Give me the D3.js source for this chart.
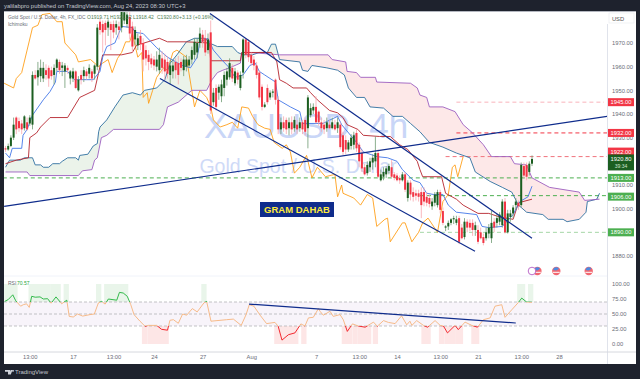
<!DOCTYPE html>
<html>
<head>
<meta charset="utf-8">
<script src="https://cdn.jsdelivr.net/npm/d3@7"></script>
<style>
  html, body { margin: 0; padding: 0; background: #1e222d; }
  svg { display: block; font-family: "Liberation Sans", Arial, sans-serif; }
  .tick text { fill: #6a6d78; font-size: 5.8px; }
</style>
</head>
<body>
<div id="chart"></div>
<script>
/* Candles, 4h bars, bar 1 is the first one visible */
var opens = [
  1925.5,1925,1926.5,1930,1938.5,1937,1936,1934,1936.5,1936,
  1935.5,1956.5,1955.5,1956,1955,1958.5,1959.5,1958.5,1956.5,1959.5,
  1962,1959.5,1958,1959.5,1955,1955,1958,1950,1956.5,1956,
  1958,1957,1958,1957,1960,1979,1978,1978.5,1976.5,1978,
  1978,1976.5,1977,1976.5,1979.5,1978,1981,1977,1971.5,1969,
  1973,1970,1967,1965,1963.5,1963,1960,1958.5,1963.5,1963,
  1962,1956.5,1958,1962,1961.5,1962,1958.5,1960,1960.5,1963,
  1965,1966,1970,1973.5,1972,1967,1974.5,1945,1951,1949,
  1947.5,1951,1954.5,1955.5,1959.5,1953,1957.5,1951,1957.5,1971.5,
  1970.5,1965,1963,1960.5,1957.5,1951.5,1943,1951,1947,1949,
  1954.5,1946,1933.5,1936.5,1937.5,1934,1936.5,1934,1935.5,1934,
  1936.5,1937.5,1934,1939.5,1941.5,1943,1941,1936.5,1935.5,1934,
  1935.5,1934,1935.5,1934,1935.5,1931,1929,1925,1926.5,1927,
  1932,1927,1923.5,1917.5,1915,1917.5,1919.5,1920,1923.5,1912,
  1913.5,1914.5,1916,1917.5,1914.5,1914,1913,1912,1914.5,1904.5,
  1911,1907,1906.5,1906.5,1907,1907,1905,1904.5,1901,1902.5,
  1901.5,1907,1899,1892,1892.5,1894,1895.5,1894,1896,1892,
  1888,1894.5,1894,1894,1891,1891,1890,1888,1887.5,1889.5,
  1887.5,1894.5,1894,1894.5,1893,1903,1890,1896.5,1898,1901.5,
  1902.5,1901.5,1918,1918.5,1915.5,1919
];
var closes = [
  1925,1926.5,1930,1935.5,1933.5,1934,1933.5,1939,1933.5,1938.5,
  1956.5,1955,1958.5,1959.5,1959.5,1956.5,1955,1956,1959.5,1963,
  1958.5,1960.5,1960.5,1958.5,1958,1958,1951,1954.5,1954.5,1958.5,
  1956,1959.5,1955,1960.5,1976.5,1975.5,1974.5,1975.5,1979,1975.5,
  1974.5,1978,1975.5,1984,1983,1982,1974,1968.5,1975.5,1972,
  1969.5,1963,1963.5,1962,1961,1960.5,1963,1965,1959.5,1958,
  1957,1960.5,1960.5,1958.5,1956.5,1959.5,1963,1963,1963,1967,
  1970.5,1970,1974,1970.5,1966,1971.5,1941.5,1949,1943,1951.5,
  1952.5,1956.5,1958,1961.5,1955,1958,1954.5,1956.5,1971.5,1965,
  1964,1961.5,1960.5,1956.5,1947,1943,1944,1945,1949,1949.5,
  1946,1933.5,1936.5,1934,1933.5,1936.5,1933.5,1937.5,1933.5,1936.5,
  1933.5,1932.5,1947,1942.5,1943,1936.5,1936.5,1934,1933.5,1936.5,
  1934,1936.5,1933.5,1936.5,1926,1924,1925,1928,1930,1931,
  1925.5,1920,1917,1914.5,1918.5,1920,1921.5,1923.5,1913.5,1914.5,
  1915.5,1917,1918,1913.5,1913,1912,1912,1914.5,1908,1911,
  1906,1905,1905.5,1905,1901.5,1903,1902.5,1902,1903,1906,
  1907,1899.5,1894,1892.5,1894,1895.5,1896,1895.5,1886,1887.5,
  1894.5,1892,1892,1891,1893,1886,1887.5,1885.5,1890,1892,
  1894,1892,1896,1897.5,1903,1890,1898,1898,1900.5,1903,
  1901,1918.5,1914,1913.5,1919,1921
];
var highs = [
  1926.5,1927.5,1931,1938.5,1939,1938.5,1937.5,1939.5,1938.5,1939.5,
  1958,1958.5,1962,1963,1962,1961,1960.5,1960,1961,1963.5,
  1963,1962,1961.5,1960.5,1958.5,1959.5,1958.5,1956,1958.5,1960,
  1959,1961,1959,1961,1978,1980.5,1979.5,1979.5,1980,1979,
  1979.5,1979.5,1979,1985.5,1985,1984,1983,1979,1977,1974,
  1975.5,1972,1969,1967,1965.5,1964.5,1966.5,1968,1966.5,1965.5,
  1964.5,1963,1963,1963.5,1964.5,1963.5,1964.5,1965,1964.5,1968.5,
  1972,1972,1976.5,1975.5,1975.5,1974,1979.5,1951,1952.5,1952.5,
  1954.5,1958,1959.5,1963.5,1961,1959.5,1958.5,1958,1972,1972,
  1971.5,1966,1964.5,1962,1958.5,1952.5,1945,1952.5,1950,1950.5,
  1955,1947.5,1938.5,1939,1938.5,1938.5,1939,1939,1937.5,1938.5,
  1937.5,1938.5,1948,1944.5,1944.5,1947.5,1941.5,1938.5,1937.5,1938.5,
  1937.5,1938.5,1937.5,1938.5,1936.5,1932.5,1931,1929,1931.5,1932.5,
  1933.5,1928,1925,1919,1920,1921.5,1923,1930.5,1925,1916.5,
  1917.5,1918,1919,1920.5,1915.5,1915,1914,1915.5,1915.5,1912,
  1912,1909,1908,1908,1909,1909,1907,1906,1904.5,1907,
  1908,1908,1900.5,1893,1895,1896,1897,1897,1897,1893.5,
  1896,1895.5,1895.5,1895.5,1894.5,1893,1892,1889.5,1892,1893.5,
  1899,1896,1898,1898.5,1904,1904.5,1899.5,1899.5,1901.5,1904.5,
  1903.5,1919.5,1919.5,1919.5,1920,1922.5
];
var lows = [
  1924,1924.5,1926,1929,1931.5,1932.5,1931.5,1933,1933,1935,
  1933.5,1954.5,1952,1953.5,1953.5,1954.5,1951.5,1954.5,1952.5,1958,
  1957,1956,1951,1957,1952.5,1953.5,1950.5,1949.5,1952.5,1953.5,
  1954.5,1955,1953.5,1954.5,1958.5,1973.5,1966,1969,1973,1967,
  1972,1973.5,1971.5,1974.5,1978,1976.5,1971.5,1966,1969,1967,
  1967,1958,1960.5,1958.5,1959.5,1958.5,1958,1957,1957,1954.5,
  1955,1952.5,1955,1955,1952.5,1958,1956,1958,1959.5,1961,
  1963,1963.5,1968,1968,1964.5,1965.5,1940,1943.5,1941.5,1946,
  1945,1947.5,1952,1954.5,1953.5,1952,1952.5,1950,1955,1963.5,
  1962,1960.5,1958.5,1955,1946,1941.5,1942.5,1944,1946,1947,
  1944,1931.5,1931.5,1932.5,1931.5,1931,1931.5,1932.5,1931.5,1932.5,
  1931.5,1931,1925.5,1938.5,1940,1936,1935,1932.5,1931.5,1932.5,
  1933.5,1933.5,1933,1932,1925,1922.5,1923,1924,1925,1925,
  1924,1917.5,1915.5,1914,1914,1915.5,1916.5,1917.5,1913,1911.5,
  1912,1913,1914.5,1913,1912,1911.5,1910.5,1911.5,1907,1903,
  1903.5,1903,1903.5,1903,1896,1901,1901,1900.5,1899.5,1901,
  1900.5,1898,1893,1890.5,1891,1893,1893.5,1893,1885,1887,
  1887,1890,1890.5,1888.5,1888.5,1885,1887,1884.5,1886.5,1887.5,
  1885.5,1890,1892,1893,1892,1889.5,1889.5,1894.5,1896,1899.5,
  1899.5,1900.5,1913,1912,1914,1918
];

/* Ichimoku, vertices */
var spanABars = [1,2.5,6.5,8,11,12,14,15,17,18.5,21,22,24,27,28,28.5,31.5,33.5,35,35.5,36,38.5,41.5,44.5,48,51,52.5,57,60,62,64.5,68,71,75,76.5,79.5,85,87,89,92.5,95,98,99.5,101,102.5,110,111,113,114.5,120,124,126.5,128,131,134,136,141,144.5,148,151,154.5,158,163,168,173,175,180.5,185,188.5,191,194,200,202,207.5,209,213.5,216,216.5,220,221];
var spanAValues = [1917.5,1920.5,1920.5,1921.5,1921.5,1918.5,1918.5,1917.5,1917.5,1919,1919,1920,1921.5,1921.5,1920.5,1922.5,1923,1926.5,1927.5,1932.5,1934.5,1937.5,1943,1948,1949,1948,1950,1951,1954.5,1961.5,1965,1970.5,1972,1972,1970,1968.5,1968.5,1966,1965,1965,1966,1966,1969.5,1969.5,1963,1962,1958.5,1958,1960.5,1959.5,1958.5,1956.5,1951,1947,1947,1943,1942.5,1939,1939,1936,1932.5,1928,1926,1923.5,1921.5,1915.5,1911.5,1909,1907,1901.5,1898.5,1897.5,1895.5,1895.5,1894.5,1895.5,1898.5,1903,1904,1906.5];
var spanBBars = [1,9,10,28,29.5,33,34,35,36.5,38.5,41,58,59.5,61,65,70,75.5,77.5,79.5,81.5,84,88,88.5,91.5,102.5,120.5,122,127,127.5,131,132.5,138,138.5,151,153.5,154.5,157,158,163,167.5,170.5,174,178,181,188,189.5,194,196,202.5,213.5,215.5,221];
var spanBValues = [1915.5,1915.5,1914,1914,1916,1916.5,1920.5,1921.5,1930,1931,1933.5,1933.5,1935.5,1943,1945,1950,1950,1954.5,1957.5,1958.5,1959.5,1961.5,1966,1966,1965,1965,1963,1962,1958,1957.5,1955.5,1955.5,1953.5,1953,1951,1948,1947,1943,1943,1941,1935.5,1932,1927,1922,1922,1919,1918.5,1913,1909,1907,1903.5,1904];
var tenkanBars = [1,2.5,3.5,7,7.5,9,11,15,17.5,19.5,20,24,26.5,33.5,36,37,38.5,41.5,44,48,49,52,57,58,61,66.5,69.5,72,73,76,78,81,83.5,86,89,91.5,93.5,95,97,101,102,106.5,110,111,118.5,124,125.5,131,133.5,138.5,142.5,146,148,152,154.5,157,159.5,163,165,168,175.5,177.5,180,185,189,191.5,194.5,196];
var tenkanValues = [1923.5,1921.5,1925.5,1925.5,1931,1933.5,1939.5,1946,1949.5,1953.5,1958,1958,1954.5,1954.5,1958,1964,1968.5,1970,1977,1976.5,1974.5,1974,1968,1967,1964,1960.5,1959.5,1964,1970.5,1972,1967,1963,1960,1955.5,1956.5,1960.5,1961.5,1958,1956.5,1953.5,1946,1943,1941,1936,1936,1939,1935.5,1928,1924,1922,1921.5,1920,1916.5,1912,1911,1906.5,1906,1906,1901.5,1898.5,1897.5,1892.5,1892,1892.5,1897.5,1903,1905,1909.5];
var kijunBars = [1,5,9.5,10,12.5,14,17.5,24,28.5,34,37,44,48,49.5,58,61,68,76.5,77,88,88.5,99.5,101.5,102.5,105,107.5,112.5,114,116.5,121,124,126,127.5,131.5,133.5,139.5,143.5,147,150,153.5,154.5,155.5,162.5,164,168,170.5,176,180,184,189,191,196];
var kijunValues = [1919,1920.5,1921.5,1930,1932,1934.5,1938.5,1938.5,1947,1950,1965,1965,1966,1969,1972,1970.5,1970.5,1970,1962.5,1962.5,1966,1966,1962,1954.5,1953,1951,1951,1949,1946,1941.5,1940.5,1938.5,1935.5,1933.5,1931,1930.5,1930.5,1927,1925,1920,1916.5,1913.5,1913.5,1906.5,1904,1901.5,1898,1898,1896.5,1895.5,1902.5,1904];
var chikouBars = [0.5,4,5,7,9,11,13,14.5,17.5,20,22,23,27,28,32.5,35.5,37,39,40.5,42.5,44,45.5,47,48,50,51.5,52,53.5,54,55.5,57,59.5,61,63,64.5,68,70,71,73,75.5,77,78,80.5,83,85,87,88.5,91,92.5,94.5,97,99,100.5,103.5,105,106.5,108,110,112.5,114.5,116.5,119.5,123,124,125.5,126,130,132.5,135,137,138.5,141.5,142.5,143.5,148,149,151.5,154,155.5,157.5,161,163,165,166.5,167.5,168.5,170.5];
var chikouValues = [1953,1951,1955,1957.5,1967,1976.5,1977.5,1982,1982.5,1979,1979,1970,1965,1962,1963,1960,1961.5,1963,1957.5,1963.5,1966,1970.5,1970.5,1974,1964,1966,1947,1949,1944.5,1950,1955.5,1959.5,1958.5,1966,1967,1964,1950,1943,1950,1947,1943,1937.5,1934.5,1935.5,1936.5,1934,1943,1942.5,1939,1935.5,1934,1933.5,1928,1925.5,1927,1924,1915,1917.5,1922.5,1913,1917.5,1913.5,1914.5,1905,1910,1906.5,1904.5,1901.5,1906,1904.5,1892.5,1895.5,1896,1886,1894,1894,1886,1890,1894,1896,1890,1903,1906,1917.5,1918.5,1913.5,1922];

/* RSI pane */
var rsiBars = [0.7,2,3.7,4.8,6.6,7.6,8.8,9.8,10.7,12,13.8,15,16.6,17.9,19.7,21.8,23.7,24.6,26.1,27.7,29.6,32.3,33.9,35.4,36.6,37.9,39.1,42.2,43.2,44.6,46.1,47.4,48.6,50.8,52.7,53.9,57,58.8,61,61.9,63.2,65,66.6,68.1,70.2,72,74.5,75.5,77.1,82.9,85.4,88.3,90.1,91.3,93,95.3,97.7,100.8,102,103.4,105.8,108.2,110.4,111.9,113.2,115,116.9,117.5,118.7,121.2,122.4,124.9,126.1,127.6,129.5,131.7,134.2,137.3,138.7,141,142.8,145.3,147.7,149.6,150.8,151.5,153.3,155.8,157.3,160.1,162,163.2,164.7,167.5,168.7,171.2,173.7,175.8,178,180.5,182.3,184.8,186,188.5,191,192.2,194,196];
var rsiValues = [71,74,82,72,63,65.5,67,61,79.5,78,78.5,75,75.5,68,78.5,67,73,46,45,50,46.5,49,50,68.5,71,66.5,75,73,86,85,79.5,65.5,49,38,29.5,31,31,24.5,23,39.5,40.5,34.5,50,48,59,53.5,68.5,71,38,40.5,41.5,31,49,65.5,63,48,34,36,29.5,6.5,15.5,18.5,33.5,30,43.5,44.5,59,54.5,48,54.5,46,49,40.5,21,33.5,30,28,36.5,29.5,39,36,34,47,32,38,31,39,31,28,39,31,30,18.5,31,24,36.5,31,28,40.5,43.5,63,65.5,44.5,57,69.5,76.5,70,69.5];
var hotStarts = [1,10,18,23,35,38,74,191,195];
var hotEnds = [5,17,21,24,36,46,75,193,196];
var coldStarts = [52,54,101,111,126,130,132,137.5,155.5,162,164,168,174];
var coldEnds = [53,61,109,112,129,131,136,138.5,158,163,167,170,176];
var rsiTicks = [100, 75, 50, 25, 0];
var rsiBands = [70, 50, 30];

/* Price scale and horizontal levels, 1920 and 1890 sit behind the price tags */
var priceTicks = [1970, 1960, 1950, 1940, 1930, 1910, 1900, 1880];
var levelValues = [1945, 1932, 1922, 1913, 1905.5, 1890];
var levelLabels = ["1945.00", "1932.00", "1922.00", "1913.00", "1906.00", "1890.00"];
var levelStarts = [168, 168, 164, 0, 154.5, 154.5];
var levelColors = ["#f9b4bb", "#f23645", "#f0727c", "#4caf50", "#4caf50", "#a5d6a7"];
var levelFills = ["#f23645", "#f23645", "#f23645", "#4caf50", "#4caf50", "#4caf50"];
var lastPrice = 1920.8;

/* Legend figures */
var ohlcLabels = ["O1919.71", "H1921.02", "L1918.42", "C1920.80", "+3.13 (+0.16%)"];
var ohlcOffsets = [87, 110, 133, 157, 179];

/* Time axis */
var timeBars = [10, 26, 41, 56, 74, 92, 116, 132, 146, 162, 176, 192, 206];
var timeLabels = ["13:00", "17", "13:00", "24", "27", "Aug", "7", "13:00", "14", "13:00", "21", "13:00", "28"];
var eventBars = [198, 205, 217];

/* Hand drawn trend lines: bar, price pairs */
var trendStartBars = [0.5, 76.7, 58.2];
var trendStartPrices = [1901, 1982.5, 1955];
var trendEndBars = [224, 196, 174.9];
var trendEndPrices = [1939, 1887.5, 1882];
var rsiTrendBars = [91.2, 190];
var rsiTrendValues = [66.5, 35];

var width = 640, height = 379;
var plotLeft = 4, plotRight = 607, plotTop = 12, split = 276, axisY = 352, plotBottom = 364, edge = 636;
var navy = "#0f2c8c";

var x = d3.scaleLinear().domain([0, 206]).range([2.8, 559]);
var y = d3.scaleLinear().domain([1880, 1970]).range([256, 43]);
var rsiY = d3.scaleLinear().domain([0, 100]).range([344, 284]);

var svg = d3.select("#chart").append("svg").attr("width", width).attr("height", height);

svg.append("rect").attr("width", width).attr("height", height).attr("fill", "#1e222d");
svg.append("rect").attr("x", plotLeft).attr("y", plotTop - 1).attr("width", edge - plotLeft).attr("height", plotBottom - plotTop + 1).attr("fill", "#fff");
svg.append("rect").attr("x", plotLeft).attr("y", plotTop - 1).attr("width", edge - plotLeft).attr("height", 1).attr("fill", "#b4b7c0");

var defs = svg.append("defs");
defs.append("clipPath").attr("id", "main").append("rect").attr("x", plotLeft).attr("y", plotTop).attr("width", plotRight - plotLeft).attr("height", split - plotTop);
defs.append("clipPath").attr("id", "pane").append("rect").attr("x", plotLeft).attr("y", split).attr("width", plotRight - plotLeft).attr("height", axisY - split);

/* Watermark */
svg.append("text").attr("x", 306).attr("y", 138).attr("text-anchor", "middle").attr("font-size", 35).attr("fill", "#c9d6f7").text("XAUUSD, 4h");
svg.append("text").attr("x", 298).attr("y", 173).attr("text-anchor", "middle").attr("font-size", 19.5).attr("fill", "#cfdaf7").text("Gold Spot / U.S. Dollar");

var main = svg.append("g").attr("clip-path", "url(#main)");

function pairs(bars, values) {
  return bars.map(function (b, i) { return [b, values[i]]; });
}
var spanA = pairs(spanABars, spanAValues);
var spanB = pairs(spanBBars, spanBValues);

/* Cloud: each colour is the area under one span, clipped to what is above the other */
var under = d3.area().x(function (d) { return x(d[0]); }).y0(split).y1(function (d) { return y(d[1]); });
var over = d3.area().x(function (d) { return x(d[0]); }).y0(plotTop).y1(function (d) { return y(d[1]); });
defs.append("clipPath").attr("id", "aboveB").append("path").attr("d", over(spanB));
defs.append("clipPath").attr("id", "aboveA").append("path").attr("d", over(spanA));
main.append("g").attr("clip-path", "url(#aboveB)").append("path").attr("d", under(spanA)).attr("fill", "#ebf3ea");
main.append("g").attr("clip-path", "url(#aboveA)").append("path").attr("d", under(spanB)).attr("fill", "#fde8e8");

/* Levels */
levelValues.forEach(function (v, i) {
  main.append("line")
    .attr("x1", x(levelStarts[i])).attr("x2", i < 1 ? 604 : plotRight)
    .attr("y1", y(v)).attr("y2", y(v))
    .attr("stroke", levelColors[i]).attr("stroke-width", 1).attr("stroke-dasharray", "4 3");
});

/* Ichimoku lines */
var line = d3.line().x(function (d) { return x(d[0]); }).y(function (d) { return y(d[1]); });
function addLine(bars, values, color) {
  main.append("path").attr("d", line(pairs(bars, values))).attr("fill", "none").attr("stroke", color).attr("stroke-width", 0.9);
}
addLine(chikouBars, chikouValues, "#ff9f1a");
addLine(spanABars, spanAValues, "#2f6f9f");
addLine(spanBBars, spanBValues, "#9c5fc0");
addLine(kijunBars, kijunValues, "#b5242c");
addLine(tenkanBars, tenkanValues, "#4377e8");

/* Candles */
var candles = main.append("g");
opens.forEach(function (o, i) {
  var bar = i + 1, c = closes[i], up = c >= o;
  candles.append("line")
    .attr("x1", x(bar)).attr("x2", x(bar))
    .attr("y1", y(highs[i])).attr("y2", y(lows[i]))
    .attr("stroke", up ? "#6f9a72" : "#f7a6ad").attr("stroke-width", 0.8);
  candles.append("rect")
    .attr("x", x(bar) - 1).attr("width", 2)
    .attr("y", y(Math.max(o, c)))
    .attr("height", Math.max(1, Math.abs(y(o) - y(c))))
    .attr("fill", up ? "#1b5e20" : "#f23645");
});

/* Trend lines */
trendStartBars.forEach(function (b, i) {
  main.append("line")
    .attr("x1", x(b)).attr("y1", y(trendStartPrices[i]))
    .attr("x2", x(trendEndBars[i])).attr("y2", y(trendEndPrices[i]))
    .attr("stroke", navy).attr("stroke-width", 1.2);
});

/* Note box */
svg.append("rect").attr("x", 260).attr("y", 202).attr("width", 74).attr("height", 15).attr("fill", navy);
svg.append("text").attr("x", 297).attr("y", 213).attr("text-anchor", "middle").attr("font-size", 9.5).attr("font-weight", "bold").attr("fill", "#ffeb3b").text("GRAM DAHAB");

/* Price axis */
var priceAxis = d3.axisRight(y).tickValues(priceTicks).tickSize(0).tickPadding(0).tickFormat(d3.format(".2f"));
svg.append("g").attr("transform", "translate(" + (plotRight + 5) + ",0)").call(priceAxis).call(function (g) { g.select(".domain").remove(); });

var labelWidth = 26;
levelValues.forEach(function (v, i) {
  var shift = levelLabels[i] === "1922.00" ? -5 : 0;
  var my = y(v) + shift;
  if (i === 4) my += 1;
  svg.append("rect").attr("x", plotRight + 1).attr("y", my - 4).attr("width", labelWidth).attr("height", 8).attr("fill", levelFills[i]);
  svg.append("text").attr("x", plotRight + 14).attr("y", my + 2).attr("text-anchor", "middle").attr("font-size", 5.8).attr("fill", "#fff").text(levelLabels[i]);
});
svg.append("rect").attr("x", plotRight + 1).attr("y", y(lastPrice) - 5).attr("width", labelWidth).attr("height", 16).attr("fill", "#1b5e20");
svg.append("text").attr("x", plotRight + 14).attr("y", y(lastPrice) + 2).attr("text-anchor", "middle").attr("font-size", 5.8).attr("fill", "#fff").text(lastPrice.toFixed(2));
svg.append("text").attr("x", plotRight + 14).attr("y", y(lastPrice) + 9).attr("text-anchor", "middle").attr("font-size", 5).attr("fill", "#cfe3d0").text("39:34");

svg.append("rect").attr("x", 609).attr("y", 13).attr("width", 25).attr("height", 10).attr("fill", "#fff").attr("stroke", "#e8e9ee").attr("stroke-width", 0.6);
svg.append("text").attr("x", 618).attr("y", 20.5).attr("text-anchor", "middle").attr("font-size", 5.8).attr("fill", "#555").text("USD");

/* RSI pane */
var pane = svg.append("g").attr("clip-path", "url(#pane)");
pane.append("rect").attr("x", plotLeft).attr("y", rsiY(70)).attr("width", plotRight - plotLeft).attr("height", rsiY(30) - rsiY(70)).attr("fill", "#f8f4fa");
hotStarts.forEach(function (b, i) {
  pane.append("rect").attr("x", x(b) - 1.3).attr("width", x(hotEnds[i]) - x(b) + 2.6)
    .attr("y", rsiY(100)).attr("height", rsiY(70) - rsiY(100)).attr("fill", "#e9f5ea");
});
coldStarts.forEach(function (b, i) {
  pane.append("rect").attr("x", x(b) - 1.3).attr("width", x(coldEnds[i]) - x(b) + 2.6)
    .attr("y", rsiY(30)).attr("height", rsiY(0) - rsiY(30)).attr("fill", "#fde6e6");
});
rsiBands.forEach(function (v) {
  pane.append("line").attr("x1", plotLeft).attr("x2", plotRight).attr("y1", rsiY(v)).attr("y2", rsiY(v))
    .attr("stroke", "#a9a9ad").attr("stroke-width", 0.7).attr("stroke-dasharray", "3 2");
});

var rsiLine = d3.line().x(function (d) { return x(d[0]); }).y(function (d) { return rsiY(d[1]); });
var rsiPath = rsiLine(pairs(rsiBars, rsiValues));
[["rsiHigh", split, rsiY(70) - split, "#1fb33a"], ["rsiMid", rsiY(70), rsiY(30) - rsiY(70), "#f6b37c"], ["rsiLow", rsiY(30), axisY - rsiY(30), "#f0151c"]].forEach(function (s) {
  defs.append("clipPath").attr("id", s[0]).append("rect").attr("x", plotLeft).attr("y", s[1]).attr("width", plotRight - plotLeft).attr("height", s[2]);
  pane.append("g").attr("clip-path", "url(#" + s[0] + ")").append("path").attr("d", rsiPath).attr("fill", "none").attr("stroke", s[3]).attr("stroke-width", 0.9);
});
pane.append("line")
  .attr("x1", x(rsiTrendBars[0])).attr("y1", rsiY(rsiTrendValues[0]))
  .attr("x2", x(rsiTrendBars[1])).attr("y2", rsiY(rsiTrendValues[1]))
  .attr("stroke", navy).attr("stroke-width", 1.2);

var rsiAxis = d3.axisRight(rsiY).tickValues(rsiTicks).tickSize(0).tickPadding(0).tickFormat(d3.format(".2f"));
svg.append("g").attr("transform", "translate(" + (plotRight + 5) + ",0)").call(rsiAxis).call(function (g) { g.select(".domain").remove(); });

/* Frame lines */
svg.append("line").attr("x1", plotLeft).attr("x2", plotRight).attr("y1", split).attr("y2", split).attr("stroke", "#f0f3fa").attr("stroke-width", 1);
svg.append("line").attr("x1", plotRight + 0.5).attr("x2", plotRight + 0.5).attr("y1", 24).attr("y2", plotBottom).attr("stroke", "#e0e3eb").attr("stroke-width", 1);
svg.append("line").attr("x1", plotLeft).attr("x2", edge).attr("y1", axisY).attr("y2", axisY).attr("stroke", "#d6d8de").attr("stroke-width", 1);

/* Time axis */
var timeAxis = d3.axisBottom(x).tickValues(timeBars).tickSize(0).tickPadding(0).tickFormat(function (d, i) { return timeLabels[i]; });
svg.append("g").attr("transform", "translate(0,355)").call(timeAxis).call(function (g) { g.select(".domain").remove(); });

/* Event markers */
var eventY = 271;
eventBars.forEach(function (b) {
  svg.append("circle").attr("cx", x(b)).attr("cy", eventY).attr("r", 4.2).attr("fill", "#f2666f");
  svg.append("rect").attr("x", x(b) - 3.4).attr("y", eventY + 0.8).attr("width", 6.8).attr("height", 1).attr("fill", "#fff");
  svg.append("path").attr("d", d3.arc()({ innerRadius: 0, outerRadius: 3.2, startAngle: -1.4, endAngle: 1 })).attr("transform", "translate(" + x(b) + "," + (eventY - 0.5) + ")").attr("fill", "#4d8be0");
});
svg.append("circle").attr("cx", x(196)).attr("cy", eventY).attr("r", 3.8).attr("fill", "#fff").attr("stroke", "#ab47bc").attr("stroke-width", 0.8);

/* Legends */
svg.append("text").attr("x", 8).attr("y", 18.5).attr("font-size", 4.9).attr("fill", "#6a6d78")
  .text("Gold Spot / U.S. Dollar, 4h, FX_IDC");
ohlcLabels.forEach(function (t, i) {
  svg.append("text").attr("x", ohlcOffsets[i]).attr("y", 18.5).attr("font-size", 5).attr("fill", "#4e7d52").text(t);
});
svg.append("text").attr("x", 8).attr("y", 26).attr("font-size", 4.9).attr("fill", "#6a6d78").text("Ichimoku");
svg.append("text").attr("x", 8).attr("y", 285).attr("font-size", 5).attr("fill", "#6a6d78").text("RSI");
svg.append("text").attr("x", 17).attr("y", 285).attr("font-size", 5).attr("fill", "#26a63a").text("70.57");

/* Header and footer */
svg.append("text").attr("x", 4).attr("y", 8).attr("font-size", 5.9).attr("fill", "#c3c6cf")
  .text("yalilabpro published on TradingView.com, Aug 24, 2023 08:30 UTC+3");
svg.append("path").attr("d", "M5 370h5v4.5h-2v-2.7h-3zM10.6 370h1.9l-1.7 4.5h-1.8zM13 370a.9.9 0 1 0 .01 0z").attr("fill", "#d1d4dc");
svg.append("text").attr("x", 15).attr("y", 374).attr("font-size", 6).attr("fill", "#c3c6cf").text("TradingView");
</script>
</body>
</html>
